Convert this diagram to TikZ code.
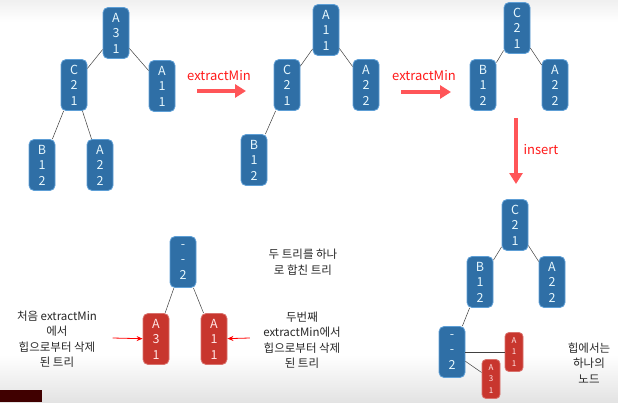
\documentclass[tikz,border=0pt]{standalone}
\usepackage{fontspec}
\setmainfont{Noto Sans CJK KR}
\usepackage{xcolor}
\usepackage{tikz}
\usetikzlibrary{positioning,arrows.meta}

\definecolor{heapblue}{HTML}{2F6FA6}
\definecolor{heapedge}{HTML}{5E9FD6}
\definecolor{heapred}{HTML}{C8362E}
\definecolor{arrowred}{HTML}{FF5558}

\begin{document}
\begin{tikzpicture}[x=1pt, y=-1pt,
  bnode/.style={draw=heapedge, fill=heapblue, rounded corners=5pt, line width=0.8pt, minimum width=26pt, minimum height=51pt, inner sep=0pt, font=\fontsize{12.5}{15.5}\selectfont, align=center, text=cyan!10},
  rnode/.style={draw=heapred!70, fill=heapred, rounded corners=5pt, line width=0.8pt, minimum width=26pt, minimum height=51pt, inner sep=0pt, font=\fontsize{12.5}{15.5}\selectfont, align=center, text=white!90!red},
  snode/.style={rnode, minimum width=18pt, minimum height=39pt, rounded corners=4pt, font=\fontsize{8}{11.5}\selectfont},
  link/.style={draw=black!75, line width=0.5pt},
  bigarr/.style={-{Triangle[length=11pt, width=13pt]}, line width=3.5pt, arrowred},
  smallarr/.style={-{Stealth[length=6pt, width=5pt]}, line width=0.8pt, red},
  oplabel/.style={font=\fontsize{13}{15}\selectfont, text=red!90},
  note/.style={font=\fontsize{11.5}{15.5}\selectfont, align=center, text=black!85}
]
\useasboundingbox (0,0) rectangle (618,402);
\shade[top color=gray!12, bottom color=white] (0,0) rectangle (618,22);
\shade[top color=white, bottom color=gray!22] (0,355) rectangle (618,402);
\fill[red!25!black] (0,390) rectangle (42,402);

% first heap
\node[bnode] (ta) at (116,33)  {A\\3\\1};
\node[bnode] (tc) at (74,85)   {C\\2\\1};
\node[bnode] (tb) at (162,86)  {A\\1\\1};
\node[bnode] (td) at (42,165)  {B\\1\\2};
\node[bnode] (te) at (100,165) {A\\2\\2};
\draw[link] (ta) -- (tc);
\draw[link] (ta) -- (tb);
\draw[link] (tc) -- (td);
\draw[link] (tc) -- (te);

\node[oplabel] (op1) at (219,76) {extractMin};
\coordinate (op1s) at (197,91);
\coordinate (op1e) at (246,91);
\draw[bigarr] (op1s) -- (op1e);

% second heap
\node[bnode] (ua) at (326,30)  {A\\1\\1};
\node[bnode] (uc) at (287,85)  {C\\2\\1};
\node[bnode] (ub) at (366,85)  {A\\2\\2};
\node[bnode] (ud) at (254,160) {B\\1\\2};
\draw[link] (ua) -- (uc);
\draw[link] (ua) -- (ub);
\draw[link] (uc) -- (ud);

\node[oplabel] (op2) at (424,76) {extractMin};
\coordinate (op2s) at (401,92);
\coordinate (op2e) at (451,92);
\draw[bigarr] (op2s) -- (op2e);

% third heap
\node[bnode] (va) at (517,28) {C\\2\\1};
\node[bnode] (vb) at (483,85) {B\\1\\2};
\node[bnode] (vc) at (555,85) {A\\2\\2};
\draw[link] (va) -- (vb);
\draw[link] (va) -- (vc);

\node[oplabel] (op3) at (541,150) {insert};
\coordinate (op3s) at (516,118);
\coordinate (op3e) at (516,184);
\draw[bigarr] (op3s) -- (op3e);

% heap after insert
\node[bnode] (wa) at (515,225) {C\\2\\1};
\node[bnode] (wb) at (480,282) {B\\1\\2};
\node[bnode] (wc) at (552,282) {A\\2\\2};
\node[bnode] (wd) at (452,352) {-\\-\\2};
\node[snode] (we) at (514,352) {A\\1\\1};
\node[snode] (wf) at (491,379) {A\\3\\1};
\draw[link] (wa) -- (wb);
\draw[link] (wa) -- (wc);
\draw[link] (wb) -- (wd);
\draw[link] (wd) -- (we);
\draw[link] (wd) -- (wf);
\node[note] (wn) at (589,363) {힙에서는\\하나의\\노드};

% merged tree
\node[bnode] (ma) at (183,262) {-\\-\\2};
\node[rnode] (mb) at (156,339) {A\\3\\1};
\node[rnode] (mc) at (214,339) {A\\1\\1};
\draw[link] (ma) -- (mb);
\draw[link] (ma) -- (mc);

\node[note] (mn) at (303,262) {두 트리를 하나\\로 합친 트리};
\node[note] (ln) at (57,339) {처음 extractMin\\에서\\힙으로부터 삭제\\된 트리};
\node[note] (rn) at (302,340) {두번째\\extractMin에서\\힙으로부터 삭제\\된 트리};
\draw[smallarr] (ln.east) ++(12,-1) coordinate (lns) -- (mb);
\draw[smallarr] (rn.west) ++(-10,-2) coordinate (rns) -- (mc);

\end{tikzpicture}
\end{document}
